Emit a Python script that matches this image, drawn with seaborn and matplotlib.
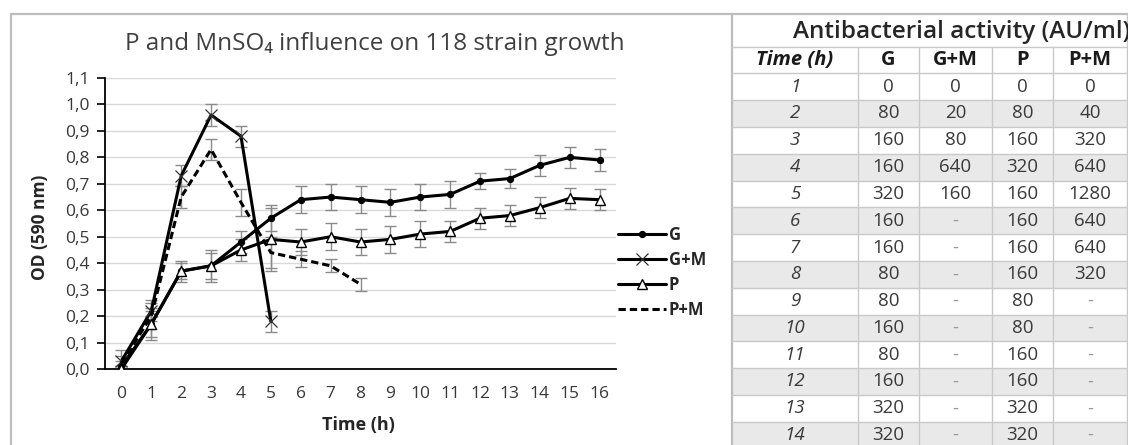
import numpy as np
import pandas as pd
import matplotlib
matplotlib.use("Agg")
import matplotlib.pyplot as plt
from matplotlib.patches import Rectangle
import seaborn as sns

# ---------------- data ----------------
hours = list(range(17))
g_od = [0.01, 0.17, 0.37, 0.39, 0.48, 0.57, 0.64, 0.65, 0.64, 0.63, 0.65, 0.66, 0.71, 0.72, 0.77, 0.80, 0.79]
g_err = [0.02, 0.05, 0.04, 0.05, 0.04, 0.05, 0.05, 0.05, 0.05, 0.05, 0.05, 0.05, 0.03, 0.035, 0.04, 0.04, 0.04]
gm_hours = [0, 1, 2, 3, 4, 5]
gm_od = [0.03, 0.22, 0.73, 0.96, 0.88, 0.18]
gm_err = [0.02, 0.04, 0.04, 0.04, 0.04, 0.04]
p_od = [0.00, 0.17, 0.37, 0.39, 0.45, 0.49, 0.48, 0.50, 0.48, 0.49, 0.51, 0.52, 0.57, 0.58, 0.61, 0.645, 0.64]
p_err = [0.01, 0.06, 0.03, 0.06, 0.04, 0.12, 0.05, 0.05, 0.05, 0.05, 0.05, 0.04, 0.04, 0.04, 0.04, 0.04, 0.04]
pm_hours = [0, 1, 2, 3, 4, 5, 6, 7, 8]
pm_od = [0.02, 0.20, 0.65, 0.83, 0.63, 0.44, 0.415, 0.39, 0.32]
pm_err = [0.05, 0.05, 0.04, 0.04, 0.05, 0.06, 0.03, 0.025, 0.025]

y_ticks = [0.0, 0.1, 0.2, 0.3, 0.4, 0.5, 0.6, 0.7, 0.8, 0.9, 1.0, 1.1]

tbl_title = "Antibacterial activity (AU/ml)"
tbl_cols = ["Time (h)", "G", "G+M", "P", "P+M"]
tbl_time = [1, 2, 3, 4, 5, 6, 7, 8, 9, 10, 11, 12, 13, 14]
tbl_g = ["0", "80", "160", "160", "320", "160", "160", "80", "80", "160", "80", "160", "320", "320"]
tbl_gm = ["0", "20", "80", "640", "160", "-", "-", "-", "-", "-", "-", "-", "-", "-"]
tbl_p = ["0", "80", "160", "320", "160", "160", "160", "160", "80", "80", "160", "160", "320", "320"]
tbl_pm = ["0", "40", "320", "640", "1280", "640", "640", "320", "-", "-", "-", "-", "-", "-"]

# ---------------- style ----------------
sns.set_theme(style="white")
plt.rcParams["font.family"] = ["Open Sans", "DejaVu Sans"]

W, H = 1128, 445
fig = plt.figure(figsize=(W / 100, H / 100), dpi=100)

def fx(px):
    return px / W

def fy(py):
    return 1 - py / H

ax = fig.add_axes([fx(105), fy(369), fx(616) - fx(105), fy(78) - fy(369)])

tick_col = "#383838"

# error bars
for xs, ys, es in [(hours, g_od, g_err), (gm_hours, gm_od, gm_err),
                   (hours, p_od, p_err), (pm_hours, pm_od, pm_err)]:
    ax.errorbar(xs, ys, yerr=es, fmt="none", ecolor="#8a8a8a", elinewidth=1.0,
                capsize=4, capthick=1.0, zorder=2)

df_g = pd.DataFrame({"t": hours, "od": g_od})
df_gm = pd.DataFrame({"t": gm_hours, "od": gm_od})
df_p = pd.DataFrame({"t": hours, "od": p_od})
df_pm = pd.DataFrame({"t": pm_hours, "od": pm_od})

sns.lineplot(data=df_g, x="t", y="od", ax=ax, color="black", lw=2.2, marker="o",
             markersize=4.5, markeredgecolor="black", label="G", zorder=3)
sns.lineplot(data=df_gm, x="t", y="od", ax=ax, color="black", lw=2.2, marker="x",
             markersize=8, markeredgewidth=0.9, markeredgecolor="#333333", label="G+M", zorder=3)
sns.lineplot(data=df_p, x="t", y="od", ax=ax, color="black", lw=2.2, marker="^",
             markersize=6.5, markerfacecolor="white", markeredgecolor="black",
             markeredgewidth=1.0, label="P", zorder=3)
sns.lineplot(data=df_pm, x="t", y="od", ax=ax, color="black", lw=2.2,
             label="P+M", zorder=3)
ax.lines[-1].set_dashes((2.4, 1.3))

ax.set_xlim(-0.55, 16.55)
ax.set_ylim(0, 1.1)
ax.set_xticks(hours)
ax.set_xticklabels([str(h) for h in hours])
ax.set_yticks(y_ticks)
ax.set_yticklabels([f"{v:.1f}".replace(".", ",") for v in y_ticks])
ax.grid(axis="y", color="#d9d9d9", lw=1.0)
ax.grid(axis="x", visible=False)
ax.set_axisbelow(True)
for s in ["top", "right"]:
    ax.spines[s].set_visible(False)
for s in ["left", "bottom"]:
    ax.spines[s].set_color("black")
    ax.spines[s].set_linewidth(1.3)
ax.tick_params(axis="y", which="major", left=True, length=6, width=1.2, color="black",
               labelsize=12.5, labelcolor=tick_col, pad=5)
ax.tick_params(axis="x", which="major", bottom=False, length=0, labelsize=12.5,
               labelcolor=tick_col, pad=12)
ax.set_xlabel("")
ax.set_ylabel("")
ax.patch.set_alpha(0)

fig.text(fx(40), fy(227), "OD (590 nm)", rotation=90, ha="center", va="center",
         fontsize=12.5, fontweight="bold", color="#262626")
fig.text(fx(358), fy(425), "Time (h)", ha="center", va="center",
         fontsize=13, fontweight="bold", color="#262626")
fig.text(fx(375), fy(44), "P and MnSO\u2084 influence on 118 strain growth", ha="center",
         va="center", fontsize=17.5, color="#404040")

leg = ax.legend(loc="upper left", bbox_to_anchor=(fx(618), fy(226)),
                bbox_transform=fig.transFigure, frameon=False, handlelength=2.9,
                handletextpad=0.15, labelspacing=0.42, borderaxespad=0, borderpad=0,
                prop={"weight": "bold", "size": 12})
for t in leg.get_texts():
    t.set_color("#262626")

# ---------------- frame + table overlay ----------------
ov = fig.add_axes([0, 0, 1, 1])
ov.set_xlim(0, W)
ov.set_ylim(H, 0)
ov.axis("off")
ov.patch.set_alpha(0)

frame_col = "#bdbdbd"
ov.plot([11, W], [14, 14], color=frame_col, lw=1.6)
ov.plot([11, 11], [14, H], color=frame_col, lw=1.6)

col_x = [732, 858, 919, 992, 1053, 1127]
title_top, title_bot = 14, 46.5
row_h = 26.8
rows_top = [title_bot + i * row_h for i in range(len(tbl_time) + 2)]

ov.add_patch(Rectangle((col_x[0], 14), col_x[-1] - col_x[0], H - 14, facecolor="white",
                       edgecolor="none", zorder=0))
for i, t in enumerate(tbl_time):
    top = rows_top[1] + i * row_h
    if t % 2 == 0:
        ov.add_patch(Rectangle((col_x[0], top), col_x[-1] - col_x[0], row_h,
                               facecolor="#e9e9e9", edgecolor="none", zorder=1))

grid_col = "#c9c9c9"
for xline in col_x[1:-1]:
    ov.plot([xline, xline], [title_bot, H], color=grid_col, lw=1.0, zorder=2)
ov.plot([col_x[0], col_x[0]], [14, H], color=frame_col, lw=1.6, zorder=2)
ov.plot([col_x[-1], col_x[-1]], [14, H], color=grid_col, lw=1.0, zorder=2)
for yb in rows_top:
    ov.plot([col_x[0], col_x[-1]], [yb, yb], color=grid_col, lw=1.0, zorder=2)

ov.text(col_x[-1] + 3, (title_top + title_bot) / 2 + 2, tbl_title,
        ha="right", va="center", fontsize=17.5, fontweight="semibold", color="#262626", zorder=3)

hy = (rows_top[0] + rows_top[1]) / 2
for j, c in enumerate(tbl_cols):
    cx = (col_x[j] + col_x[j + 1]) / 2
    ov.text(cx, hy, c, ha="center", va="center", fontsize=14.5, fontweight="bold",
            fontstyle="italic" if j == 0 else "normal", color="#1a1a1a", zorder=3)

for i, t in enumerate(tbl_time):
    cy = rows_top[1] + i * row_h + row_h / 2
    vals = [str(t), tbl_g[i], tbl_gm[i], tbl_p[i], tbl_pm[i]]
    for j, v in enumerate(vals):
        cx = (col_x[j] + col_x[j + 1]) / 2
        col = "#9a9a9a" if v == "-" else "#3a3a3a"
        ov.text(cx, cy, v, ha="center", va="center", fontsize=13.5,
                fontstyle="italic" if j == 0 else "normal", color=col, zorder=3)

fig.savefig("out.png", dpi=100, facecolor="white")
